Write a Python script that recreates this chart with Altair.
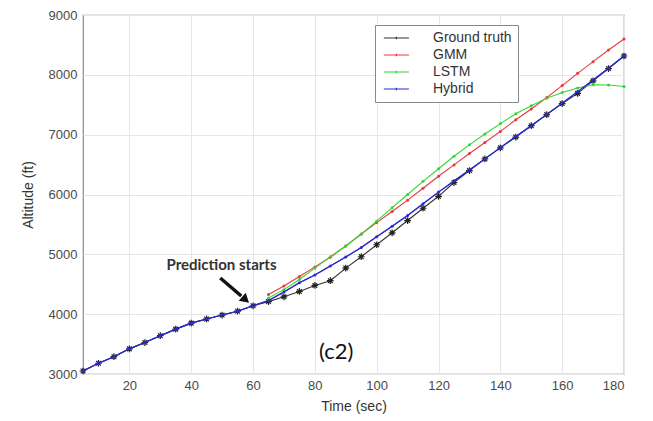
import altair as alt
import pandas as pd

# ---- data ----
gt_time = [5, 10, 15, 20, 25, 30, 35, 40, 45, 50, 55, 60, 65, 70, 75, 80, 85, 90,
           95, 100, 105, 110, 115, 120, 125, 130, 135, 140, 145, 150, 155, 160, 165, 170, 175, 180]
gt_alt = [3050, 3180, 3290, 3420, 3525, 3640, 3750, 3850, 3920, 3985, 4050, 4140, 4210, 4290,
          4380, 4480, 4560, 4770, 4960, 5160, 5360, 5565, 5770, 5970, 6200, 6400, 6595, 6780,
          6960, 7150, 7335, 7520, 7690, 7900, 8105, 8315]

pred_time = [65, 70, 75, 80, 85, 90, 95, 100, 105, 110, 115, 120, 125, 130, 135, 140,
             145, 150, 155, 160, 165, 170, 175, 180]
gmm_alt = [4330, 4470, 4630, 4790, 4950, 5140, 5340, 5530, 5715, 5905, 6105, 6305, 6495,
           6685, 6870, 7055, 7250, 7430, 7620, 7820, 8025, 8220, 8415, 8600]
lstm_alt = [4270, 4410, 4580, 4770, 4960, 5140, 5335, 5555, 5780, 6000, 6220, 6430, 6640,
            6830, 7010, 7185, 7350, 7485, 7610, 7705, 7780, 7835, 7830, 7805]
hyb_hist_time = [5, 10, 15, 20, 25, 30, 35, 40, 45, 50, 55, 60]
hyb_hist_alt = [3050, 3180, 3290, 3420, 3525, 3640, 3750, 3850, 3920, 3985, 4050, 4140]
hyb_alt = [4230, 4370, 4525, 4655, 4805, 4955, 5115, 5295, 5470, 5650, 5845, 6040, 6225,
           6410, 6595, 6783, 6970, 7150, 7340, 7528, 7720, 7915, 8110, 8317]

series_names = ["Ground truth", "GMM", "LSTM", "Hybrid"]
series_colors = ["#333333", "#e8383d", "#33d633", "#2a2ad0"]

x_ticks = [20, 40, 60, 80, 100, 120, 140, 160, 180]
y_ticks = [3000, 4000, 5000, 6000, 7000, 8000, 9000]

# annotations
note_text = ["Prediction starts", "(c2)"]
note_x = [49.8, 86.9]
note_y = [4823, 3368]
arrow_x = [49.4]
arrow_y = [4604]
arrow_x2 = [56.2]
arrow_y2 = [4304]
head_x = [57.6]
head_y = [4240]

# ---- tables ----
rows = []
for t, a in zip(gt_time, gt_alt):
    rows.append({"time": t, "alt": a, "series": "Ground truth", "order": 0})
for t, a in zip(pred_time, gmm_alt):
    rows.append({"time": t, "alt": a, "series": "GMM", "order": 1})
for t, a in zip(pred_time, lstm_alt):
    rows.append({"time": t, "alt": a, "series": "LSTM", "order": 2})
for t, a in zip(hyb_hist_time + pred_time, hyb_hist_alt + hyb_alt):
    rows.append({"time": t, "alt": a, "series": "Hybrid", "order": 3})
df = pd.DataFrame(rows)

xs = alt.Scale(domain=[5, 180], nice=False, zero=False)
ys = alt.Scale(domain=[3000, 9000], nice=False, zero=False)
cs = alt.Scale(domain=series_names, range=series_colors)

FONT = "Liberation Sans"

x_enc = alt.X("time:Q", scale=xs,
              axis=alt.Axis(values=x_ticks, title="Time (sec)", grid=True, domain=False,
                            tickSize=0, labelPadding=5, titlePadding=7, format="d"))
y_enc = alt.Y("alt:Q", scale=ys,
              axis=alt.Axis(values=y_ticks, title="Altitude (ft)", grid=True, domain=False,
                            tickSize=0, labelPadding=6, titlePadding=13, format="d"))

legend_line = "M-1,0L5,0M2,-0.3L2,0.3M1.7,0L2.3,0"

lines = alt.Chart(df).mark_line(strokeWidth=1.1).encode(
    x=x_enc, y=y_enc,
    color=alt.Color("series:N", scale=cs, sort=series_names,
                    legend=alt.Legend(title=None, orient="none", legendX=292, legendY=10,
                                      symbolType=legend_line, symbolSize=70,
                                      symbolStrokeWidth=1.2, labelFontSize=14,
                                      labelFont=FONT, labelColor="#333",
                                      strokeColor="#888", fillColor="white",
                                      padding=6, rowPadding=3, labelOffset=38)),
    detail="series:N",
    order="order:Q",
)

gt_df = df[df.series == "Ground truth"]
stars = alt.Chart(gt_df).mark_point(
    shape="M-1,0L1,0M0,-1L0,1M-0.7,-0.7L0.7,0.7M-0.7,0.7L0.7,-0.7",
    filled=False, size=45, strokeWidth=1.2, opacity=1, color="#222"
).encode(x="time:Q", y="alt:Q")

dots = alt.Chart(df[df.series != "Ground truth"]).mark_point(
    shape="circle", filled=True, size=9, opacity=1
).encode(x="time:Q", y="alt:Q",
         color=alt.Color("series:N", scale=cs, legend=None))

hyb_line = alt.Chart(df[df.series == "Hybrid"]).mark_line(strokeWidth=1.1, color="#2a2ad0").encode(
    x="time:Q", y="alt:Q")

ann_df = pd.DataFrame({"text": note_text, "x": note_x, "y": note_y})
txt1 = alt.Chart(ann_df.iloc[[0]]).mark_text(font="Lato", fontWeight="bold", fontSize=15,
                                              color="#333").encode(x="x:Q", y="y:Q", text="text:N")
txt2 = alt.Chart(ann_df.iloc[[1]]).mark_text(font="Lato", fontSize=22,
                                              color="#111").encode(x="x:Q", y="y:Q", text="text:N")

arr_df = pd.DataFrame({"x": arrow_x, "y": arrow_y, "x2": arrow_x2, "y2": arrow_y2})
arrow = alt.Chart(arr_df).mark_rule(strokeWidth=3.5, color="#111").encode(
    x="x:Q", y="y:Q", x2="x2:Q", y2="y2:Q")
head_df = pd.DataFrame({"x": head_x, "y": head_y})
head = alt.Chart(head_df).mark_point(shape="triangle-up", filled=True, size=110, angle=132,
                                     color="#111", opacity=1).encode(x="x:Q", y="y:Q")

chart = alt.layer(lines, stars, hyb_line, dots, arrow, head, txt1, txt2).properties(
    width=541, height=359,
    background="white",
    autosize=alt.AutoSizeParams(type="none"),
    padding={"left": 83, "top": 15, "right": 29, "bottom": 47},
).configure_view(stroke="#8a8a8a", strokeWidth=1.2).configure_axis(
    labelFont=FONT, titleFont=FONT, labelFontSize=13, titleFontSize=14,
    labelColor="#4a4a4a", titleColor="#333", gridColor="#e6e6e6", gridWidth=1,
    titleFontWeight="normal"
)

chart.save("out.html", embed_options={"renderer": "svg", "actions": False})
